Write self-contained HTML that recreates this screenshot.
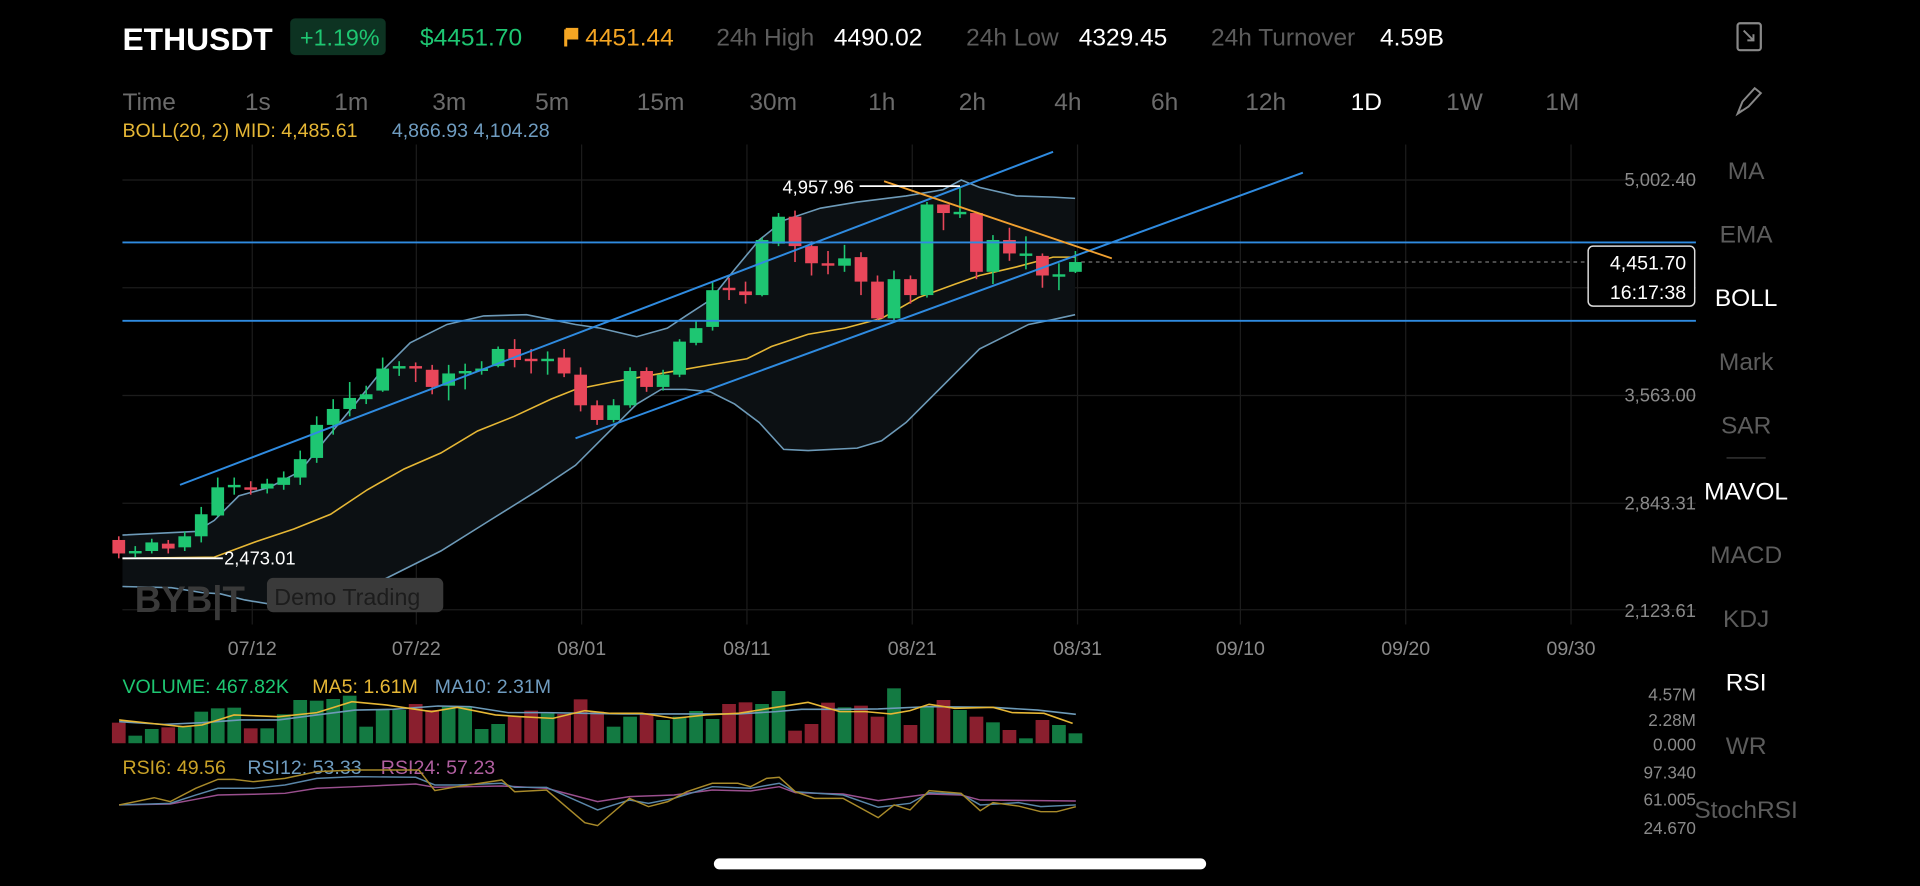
<!DOCTYPE html>
<html><head><meta charset="utf-8"><style>
html,body{margin:0;padding:0;background:#000;overflow:hidden}
svg{display:block}
text{font-family:"Liberation Sans",sans-serif}
</style></head><body>
<svg id="s" width="1920" height="886" viewBox="0 0 1568 723.6" preserveAspectRatio="none" xmlns="http://www.w3.org/2000/svg">
<rect width="1568" height="724" fill="#000"/>
<!-- header -->
<text x="100" y="41" fill="#fff" font-size="26" font-weight="bold">ETHUSDT</text>
<rect x="237" y="15" width="78" height="30" rx="4" fill="#0d3322"/>
<text x="245" y="37" fill="#1ec672" font-size="19">+1.19%</text>
<text x="343" y="37" fill="#1ec672" font-size="20">$4451.70</text>
<path d="M462 24v14M462 24h9v7h-9" stroke="#f5a623" stroke-width="2.5" fill="#f5a623"/>
<text x="478" y="37" fill="#f5a623" font-size="20">4451.44</text>
<text x="585" y="37" fill="#5c5c5c" font-size="20">24h High</text>
<text x="681" y="37" fill="#fff" font-size="20">4490.02</text>
<text x="789" y="37" fill="#5c5c5c" font-size="20">24h Low</text>
<text x="881" y="37" fill="#fff" font-size="20">4329.45</text>
<text x="989" y="37" fill="#5c5c5c" font-size="20">24h Turnover</text>
<text x="1127" y="37" fill="#fff" font-size="20">4.59B</text>
<rect x="1419" y="19" width="19" height="22" rx="2" fill="none" stroke="#888" stroke-width="1.8"/>
<path d="M1424 25l8 8M1432 28v5h-5" stroke="#888" stroke-width="1.6" fill="none"/>
<!-- timeframe row -->
<g fill="#6b6b6b" font-size="20">
<text x="100" y="90">Time</text><text x="200" y="90">1s</text><text x="273" y="90">1m</text><text x="353" y="90">3m</text><text x="437" y="90">5m</text><text x="520" y="90">15m</text><text x="612" y="90">30m</text><text x="709" y="90">1h</text><text x="783" y="90">2h</text><text x="861" y="90">4h</text><text x="940" y="90">6h</text><text x="1017" y="90">12h</text><text x="1103" y="90" fill="#fff">1D</text><text x="1181" y="90">1W</text><text x="1262" y="90">1M</text>
</g>
<path d="M1419 93l4-10 10-11 5 4-10 11z M1419 93l4-3" stroke="#888" stroke-width="1.6" fill="none"/>
<text x="100" y="112" fill="#e6b735" font-size="16">BOLL(20, 2) MID: 4,485.61</text>
<text x="320" y="112" fill="#6f9cc0" font-size="16">4,866.93 4,104.28</text>
<!-- right panel -->
<g font-size="20" fill="#5c5c5c" text-anchor="middle">
<text x="1426" y="146">MA</text><text x="1426" y="198">EMA</text><text x="1426" y="250" fill="#fff">BOLL</text><text x="1426" y="302">Mark</text><text x="1426" y="354">SAR</text><text x="1426" y="408" fill="#fff">MAVOL</text><text x="1426" y="460">MACD</text><text x="1426" y="512">KDJ</text><text x="1426" y="564" fill="#fff">RSI</text><text x="1426" y="616">WR</text><text x="1426" y="668">StochRSI</text>
</g>
<line x1="1410" y1="374" x2="1442" y2="374" stroke="#444" stroke-width="1"/>
<!-- grid -->
<g id="grid" stroke="#1c1c1c" stroke-width="1"></g>
<!-- price axis -->
<g fill="#8a8a8a" font-size="15" text-anchor="end">
<text x="1385" y="152">5,002.40</text><text x="1385" y="328">3,563.00</text><text x="1385" y="416">2,843.31</text><text x="1385" y="504">2,123.61</text>
</g>
<g fill="#8a8a8a" font-size="16" text-anchor="middle">
<text x="206" y="535">07/12</text><text x="340" y="535">07/22</text><text x="475" y="535">08/01</text><text x="610" y="535">08/11</text><text x="745" y="535">08/21</text><text x="880" y="535">08/31</text><text x="1013" y="535">09/10</text><text x="1148" y="535">09/20</text><text x="1283" y="535">09/30</text>
</g>
<g id="boll"></g>
<!-- watermark -->
<text x="110" y="500" fill="#3a3a3a" font-size="30" font-weight="bold">BYB|T</text>
<rect x="218" y="472" width="144" height="28" rx="5" fill="#3a3a3a"/>
<text x="224" y="494" fill="#1c1c1c" font-size="19">Demo Trading</text>
<g id="candles"></g>
<!-- drawn lines -->
<g stroke="#2f8be0" stroke-width="1.6">
<line x1="100" y1="198" x2="1385" y2="198"/>
<line x1="100" y1="262" x2="1385" y2="262"/>
<line x1="147" y1="396" x2="860" y2="124"/>
<line x1="470" y1="358" x2="1064" y2="141"/>
</g>
<line x1="722" y1="148" x2="908" y2="211" stroke="#f0a030" stroke-width="1.5"/>
<line x1="883" y1="214" x2="1297" y2="214" stroke="#777" stroke-width="1" stroke-dasharray="3,3"/>
<line x1="702" y1="152" x2="784" y2="152" stroke="#fff" stroke-width="1.5"/>
<text x="639" y="158" fill="#fff" font-size="15">4,957.96</text>
<line x1="100" y1="456" x2="182" y2="456" stroke="#fff" stroke-width="1.5"/>
<text x="183" y="461" fill="#fff" font-size="15">2,473.01</text>
<rect x="1297" y="201" width="87" height="49" rx="4" fill="#000" stroke="#ddd" stroke-width="1.2"/>
<text x="1377" y="220" fill="#fff" font-size="16" text-anchor="end">4,451.70</text>
<text x="1377" y="244" fill="#fff" font-size="16" text-anchor="end">16:17:38</text>
<!-- volume -->
<text x="100" y="566" font-size="16" fill="#1ec672">VOLUME: 467.82K</text>
<text x="255" y="566" font-size="16" fill="#e6b735">MA5: 1.61M</text>
<text x="355" y="566" font-size="16" fill="#6f9cc0">MA10: 2.31M</text>
<g fill="#8a8a8a" font-size="14" text-anchor="end">
<text x="1385" y="572">4.57M</text><text x="1385" y="593">2.28M</text><text x="1385" y="613">0.000</text>
<text x="1385" y="636">97.340</text><text x="1385" y="658">61.005</text><text x="1385" y="681">24.670</text>
</g>
<g id="vol"></g>
<text x="100" y="632" font-size="16" fill="#c9a227">RSI6: 49.56</text>
<text x="202" y="632" font-size="16" fill="#6f9cc0">RSI12: 53.33</text>
<text x="311" y="632" font-size="16" fill="#b05fa0">RSI24: 57.23</text>
<g id="rsi"></g>
<rect x="583" y="701" width="402" height="9" rx="4.5" fill="#fff"/>
<script>
var NS="http://www.w3.org/2000/svg";
function el(p,t,a){var e=document.createElementNS(NS,t);for(var k in a)e.setAttribute(k,a[k]);p.appendChild(e);return e;}
var G=document.getElementById('grid');
[147,235,323,411,498].forEach(function(y){el(G,'line',{x1:100,x2:1385,y1:y,y2:y});});
[206,340,475,610,745,880,1013,1148,1283].forEach(function(x){el(G,'line',{x1:x,x2:x,y1:118,y2:510});});
function pts(a){return a.map(function(p){return p[0]+','+p[1]}).join(' ');}
var up=[[100,437],[160,434],[175,425],[195,405],[220,398],[245,385],[265,360],[290,330],[310,305],[335,280],[365,265],[395,258],[430,257],[470,265],[490,268],[520,275],[545,268],[560,258],[580,245],[600,220],[620,196],[640,180],[670,170],[700,165],[740,160],[770,155],[785,147],[800,153],[830,160],[860,161],[878,162]];
var lo=[[100,479],[140,480],[165,484],[180,485],[200,490],[230,495],[260,494],[290,485],[320,470],[360,450],[400,425],[440,400],[470,380],[500,350],[520,330],[540,318],[560,318],[580,320],[600,330],[620,345],[640,367],[660,368],[700,366],[720,360],[740,345],[760,325],[780,305],[800,285],[820,275],[840,265],[860,261],[878,257]];
var mid=[[100,456],[175,455],[210,442],[240,432],[270,420],[300,400],[330,383],[360,370],[390,352],[420,340],[450,326],[470,318],[500,312],[540,305],[580,298],[610,293],[630,283],[660,273],[690,268],[720,260],[750,243],[780,232],[800,225],[830,218],[860,210],[878,210]];
var B=document.getElementById('boll');
el(B,'polygon',{points:pts(up.concat(lo.slice().reverse())),fill:'#0c1013'});
el(B,'polyline',{points:pts(up),fill:'none',stroke:'#6d9ab8','stroke-width':1.3});
el(B,'polyline',{points:pts(lo),fill:'none',stroke:'#6d9ab8','stroke-width':1.3});
el(B,'polyline',{points:pts(mid),fill:'none',stroke:'#e6b735','stroke-width':1.3});
var GR='#1ec672',RD='#e8475a';
// [green?, bodyTop, bodyBot, wickTop, wickBot]
var C=[[0,441,452,438,456],[1,450,452,446,455],[1,443,450,440,452],[0,444,448,441,452],[1,438,447,434,450],[1,420,438,414,443],[1,398,421,390,422],[1,396,398,390,404],[0,398,400,393,404],[1,395,399,391,403],[1,390,396,385,400],[1,375,390,368,396],[1,347,374,340,378],[1,334,347,326,355],[1,325,334,312,340],[1,322,326,315,330],[1,301,319,292,320],[1,299,301,295,307],[0,299,301,296,312],[0,302,316,298,322],[1,305,315,298,327],[1,303,305,297,318],[1,301,303,295,306],[1,285,299,283,300],[0,285,294,277,300],[0,293,295,285,305],[1,293,295,287,306],[0,292,305,285,308],
[0,306,331,300,336],[0,331,343,327,347],[1,331,343,326,345],[1,303,331,300,333],[0,303,316,300,320],[1,306,316,302,319],[1,279,306,277,308],[1,268,280,262,282],[1,237,267,230,270],[0,235,237,227,245],[0,238,241,230,248],[1,196,241,194,242],[1,177,199,174,201],[0,177,201,172,214],[0,201,215,197,225],[0,215,217,205,224],[1,211,217,200,222],[0,210,230,206,241],[0,230,260,225,262],[1,228,260,221,263],[0,228,241,225,248],[1,167,241,165,243],[0,167,174,167,188],[1,173,175,152,178],[0,174,222,173,228],[1,196,222,192,232],[0,196,207,186,213],[1,207,209,193,220],[0,209,225,207,235],[1,224,226,215,237],[1,214,222,205,223]];
var CG=document.getElementById('candles');
C.forEach(function(c,i){var x=97+13.47*i,col=c[0]?GR:RD;
el(CG,'line',{x1:x,x2:x,y1:c[3],y2:c[4],stroke:col,'stroke-width':1.3});
el(CG,'rect',{x:x-5.2,y:c[1],width:10.4,height:Math.max(1.5,c[2]-c[1]),fill:col});});
// volume
var vh=[158,197,177,172,170,125,115,113,175,175,133,90,92,87,77,170,118,120,102,120,110,110,177,162,140,122,130,132,88,125,170,140,130,150,140,123,147,102,97,102,63,182,162,98,112,107,140,55,165,110,90,120,140,157,180,205,150,165,190];
var VG=document.getElementById('vol');
function zy(v){return 547.2+v*0.2722;} function zx(v){return 81.67+v*0.5209;}
C.forEach(function(c,i){var x=97+13.47*i,t=zy(vh[i]);
el(VG,'rect',{x:x-5.6,y:t,width:11.2,height:607-t,fill:c[0]?'#137a42':'#8a1f2e'});});
function zl(a){return a.map(function(p){return zx(p[0]).toFixed(1)+','+zy(p[1]).toFixed(1)}).join(' ');}
var m5=[[30,150],[80,160],[130,170],[160,165],[210,135],[280,140],[340,128],[395,95],[450,105],[520,125],[560,112],[620,135],[660,140],[710,145],[760,122],[800,130],[850,130],[900,145],[950,135],[1000,130],[1050,115],[1110,97],[1160,125],[1200,125],[1240,132],[1270,122],[1300,103],[1340,115],[1400,112],[1430,128],[1480,130],[1525,160]];
var m10=[[30,155],[100,163],[160,158],[220,150],[280,150],[340,135],[400,120],[460,118],[530,108],[580,110],[640,128],[700,128],[760,130],[820,132],[900,132],[1000,132],[1060,125],[1100,118],[1160,118],[1220,117],[1300,110],[1400,112],[1470,120],[1530,133]];
el(VG,'polyline',{points:zl(m10),fill:'none',stroke:'#6d9ab8','stroke-width':1.3});
el(VG,'polyline',{points:zl(m5),fill:'none',stroke:'#e6b735','stroke-width':1.3});
var R=document.getElementById('rsi');
var r6=[[30,405],[85,383],[110,395],[150,355],[185,328],[210,328],[240,335],[290,325],[340,305],[400,300],[500,300],[525,362],[560,350],[630,330],[650,365],[700,360],[760,458],[780,467],[830,385],[860,410],[890,395],[920,365],[960,340],[1000,340],[1020,350],[1045,325],[1065,322],[1090,365],[1120,385],[1165,385],[1220,443],[1245,405],[1270,420],[1300,362],[1350,370],[1380,422],[1400,398],[1440,408],[1475,425],[1500,425],[1530,410]];
var r12=[[30,405],[110,400],[150,375],[185,355],[240,355],[290,345],[340,325],[400,320],[495,322],[525,345],[560,345],[630,340],[650,352],[700,352],[780,420],[830,390],[860,400],[900,385],[960,350],[1020,355],[1065,340],[1090,365],[1165,375],[1220,412],[1270,400],[1300,368],[1350,372],[1380,405],[1440,398],[1475,410],[1530,405]];
var r24=[[30,405],[110,402],[150,388],[185,375],[240,373],[290,370],[340,355],[400,350],[495,342],[525,352],[630,348],[700,355],[780,395],[830,380],[900,375],[960,360],[1020,363],[1065,350],[1090,368],[1165,372],[1220,392],[1300,372],[1350,375],[1380,390],[1530,393]];
el(R,'polyline',{points:zl(r24),fill:'none',stroke:'#9a4f8e','stroke-width':1.2});
el(R,'polyline',{points:zl(r12),fill:'none',stroke:'#5a86a8','stroke-width':1.2});
el(R,'polyline',{points:zl(r6),fill:'none',stroke:'#a88a2a','stroke-width':1.2});
</script>
</svg>
</body></html>
